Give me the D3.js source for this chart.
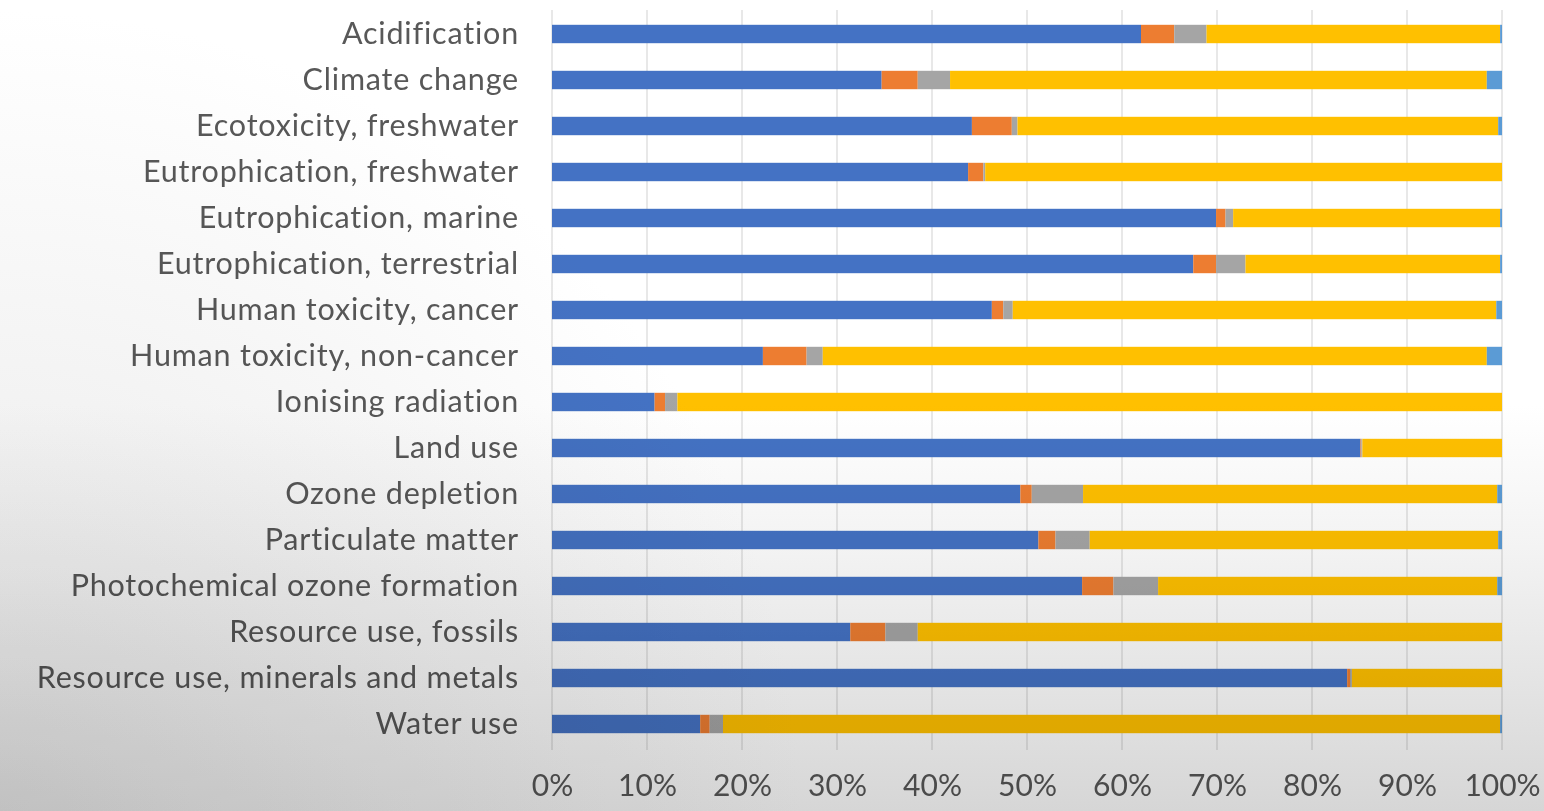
<!DOCTYPE html>
<html>
<head>
<meta charset="utf-8">
<script src="https://cdn.jsdelivr.net/npm/d3@7"></script>
<style>
  html, body { margin: 0; padding: 0; background: #fff; }
  svg { display: block; }
  text { font-family: Lato, "Open Sans", sans-serif; }
</style>
</head>
<body>
<svg id="chart" width="1544" height="811"></svg>
<script>
// Impact categories, top to bottom
const categories = [
  "Acidification",
  "Climate change",
  "Ecotoxicity, freshwater",
  "Eutrophication, freshwater",
  "Eutrophication, marine",
  "Eutrophication, terrestrial",
  "Human toxicity, cancer",
  "Human toxicity, non-cancer",
  "Ionising radiation",
  "Land use",
  "Ozone depletion",
  "Particulate matter",
  "Photochemical ozone formation",
  "Resource use, fossils",
  "Resource use, minerals and metals",
  "Water use"
];

// Share of each contributor per category (percent)
const series1 = [62.0, 34.7, 44.2, 43.8, 69.9, 67.5, 46.3, 22.2, 10.8, 85.1, 49.3, 51.2, 55.8, 31.4, 83.7, 15.6];
const series2 = [3.5, 3.8, 4.2, 1.6, 1.0, 2.4, 1.2, 4.6, 1.1, 0.1, 1.2, 1.8, 3.3, 3.7, 0.3, 1.0];
const series3 = [3.4, 3.4, 0.6, 0.2, 0.8, 3.1, 1.0, 1.7, 1.3, 0.1, 5.4, 3.6, 4.7, 3.4, 0.2, 1.4];
const series4 = [30.9, 56.5, 50.6, 54.4, 28.1, 26.8, 50.9, 69.9, 86.8, 14.7, 43.6, 43.0, 35.7, 61.5, 15.8, 81.8];
const series5 = [0.2, 1.6, 0.4, 0.0, 0.2, 0.2, 0.6, 1.6, 0.0, 0.0, 0.5, 0.4, 0.5, 0.0, 0.0, 0.2];

const seriesKeys = ["s1", "s2", "s3", "s4", "s5"];
const seriesColors = ["#4472C4", "#ED7D31", "#A5A5A5", "#FFC000", "#5B9BD5"];

const tickValues = [0, 0.1, 0.2, 0.3, 0.4, 0.5, 0.6, 0.7, 0.8, 0.9, 1.0];

// Build rows normalised to 100%
const rows = categories.map((c, i) => {
  const vals = [series1[i], series2[i], series3[i], series4[i], series5[i]];
  const total = d3.sum(vals);
  const r = { category: c };
  seriesKeys.forEach((k, j) => r[k] = vals[j] / total);
  return r;
});

const svg = d3.select("#chart");
const W = 1544, H = 811;

const x = d3.scaleLinear().domain([0, 1]).range([552, 1502]);
const y = d3.scaleBand().domain(categories).range([11, 747])
  .paddingInner(0.6).paddingOuter(0.3);

// Gridlines
svg.append("g")
  .selectAll("line")
  .data(tickValues)
  .join("line")
  .attr("x1", d => x(d)).attr("x2", d => x(d))
  .attr("y1", 10).attr("y2", 750)
  .attr("stroke", "#d9d9d9")
  .attr("stroke-width", 1.2);

// Stacked bars
const stack = d3.stack().keys(seriesKeys);
const layers = stack(rows);

svg.append("g")
  .selectAll("g")
  .data(layers)
  .join("g")
  .attr("fill", (d, i) => seriesColors[i])
  .selectAll("rect")
  .data(d => d)
  .join("rect")
  .attr("x", d => x(d[0]))
  .attr("y", d => y(d.data.category))
  .attr("width", d => Math.max(0, x(d[1]) - x(d[0])))
  .attr("height", y.bandwidth());

// Category axis
const yAxis = svg.append("g")
  .attr("transform", "translate(552,0)")
  .call(d3.axisLeft(y).tickSize(0).tickPadding(33));
yAxis.select(".domain").remove();
yAxis.selectAll("text")
  .attr("fill", "#585858")
  .style("font-size", "30.5px")
  .style("letter-spacing", "0.8px");

// Percentage axis
const xAxis = svg.append("g")
  .attr("transform", "translate(0,785)")
  .call(d3.axisBottom(x).tickValues(tickValues).tickFormat(d3.format(".0%")).tickSize(0).tickPadding(0));
xAxis.select(".domain").remove();
xAxis.selectAll("text")
  .attr("fill", "#585858")
  .attr("y", 0)
  .attr("dy", "0.35em")
  .style("font-size", "30px");

// Soft grey shading over the lower part of the frame, darkest at bottom left
const defs = svg.append("defs");
const vgrad = defs.append("linearGradient")
  .attr("id", "shadeV")
  .attr("x1", 0).attr("y1", 0.5)
  .attr("x2", 0).attr("y2", 1.0);
vgrad.append("stop").attr("offset", 0).attr("stop-color", "#ffffff");
vgrad.append("stop").attr("offset", 0.35).attr("stop-color", "#f3f3f3");
vgrad.append("stop").attr("offset", 1).attr("stop-color", "#d6d6d6");

const rgrad = defs.append("radialGradient")
  .attr("id", "shadeR")
  .attr("gradientUnits", "userSpaceOnUse")
  .attr("cx", 0).attr("cy", 811).attr("r", 800);
rgrad.append("stop").attr("offset", 0).attr("stop-color", "#e6e6e6");
rgrad.append("stop").attr("offset", 1).attr("stop-color", "#ffffff");

svg.append("rect")
  .attr("width", W).attr("height", H)
  .attr("fill", "url(#shadeV)")
  .style("mix-blend-mode", "multiply")
  .style("pointer-events", "none");
svg.append("rect")
  .attr("width", W).attr("height", H)
  .attr("fill", "url(#shadeR)")
  .style("mix-blend-mode", "multiply")
  .style("pointer-events", "none");
</script>
</body>
</html>
